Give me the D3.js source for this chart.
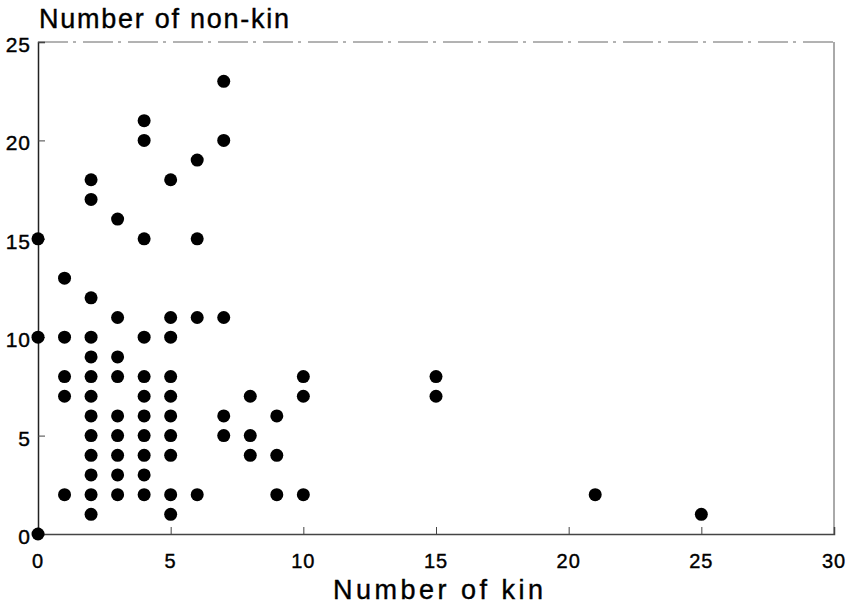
<!DOCTYPE html>
<html>
<head>
<meta charset="utf-8">
<style>
  body { margin: 0; background: #fff; }
  svg text { font-family: "Liberation Sans", Arial, sans-serif; fill: #000; stroke: #000; stroke-width: 0.4px; }
</style>
</head>
<body>
<div id="chart"></div>
<script src="https://d3js.org/d3.v7.min.js"></script>
<script>
// number of kin for each individual
var kin = [
  0, 0, 0,
  1, 1, 1, 1, 1,
  2, 2, 2, 2, 2, 2, 2, 2, 2, 2, 2, 2, 2,
  3, 3, 3, 3, 3, 3, 3, 3, 3,
  4, 4, 4, 4, 4, 4, 4, 4, 4, 4, 4,
  5, 5, 5, 5, 5, 5, 5, 5, 5, 5,
  6, 6, 6, 6,
  7, 7, 7, 7, 7,
  8, 8, 8,
  9, 9, 9,
  10, 10, 10,
  15, 15,
  21,
  25
];
// number of non-kin for the same individuals
var nonKin = [
  0, 10, 15,
  13, 10, 8, 7, 2,
  18, 17, 12, 10, 9, 8, 7, 6, 5, 4, 3, 2, 1,
  16, 11, 9, 8, 6, 5, 4, 3, 2,
  21, 20, 15, 10, 8, 7, 6, 5, 4, 3, 2,
  18, 11, 10, 8, 7, 6, 5, 4, 2, 1,
  19, 15, 11, 2,
  23, 20, 11, 6, 5,
  7, 5, 4,
  6, 4, 2,
  8, 7, 2,
  8, 7,
  2,
  1
];
var xTicks = [0, 5, 10, 15, 20, 25, 30];
var yTicks = [0, 5, 10, 15, 20, 25];

var width = 854, height = 605;
var margin = { left: 38, right: 20, top: 42, bottom: 71 };

var svg = d3.select("#chart").append("svg")
    .attr("width", width)
    .attr("height", height);

var x = d3.scaleLinear().domain([0, 30]).range([margin.left, width - margin.right]);
var y = d3.scaleLinear().domain([0, 25]).range([height - margin.bottom, margin.top]);

// frame (top and right sides are faint in the original)
svg.append("line")
    .attr("x1", x(0)).attr("x2", x(30))
    .attr("y1", y(25)).attr("y2", y(25))
    .attr("stroke", "#666").attr("stroke-width", 1)
    .attr("stroke-dasharray", "30,5,3,7");
svg.append("line")
    .attr("x1", x(30)).attr("x2", x(30))
    .attr("y1", y(25)).attr("y2", y(0))
    .attr("stroke", "#555").attr("stroke-width", 1);

// axes with inward ticks
var xAxis = svg.append("g")
    .attr("transform", "translate(0," + y(0) + ")")
    .call(d3.axisTop(x).tickValues(xTicks).tickSize(7).tickFormat(""));
xAxis.select(".domain").attr("stroke", "#444").attr("stroke-width", 1.5);
xAxis.selectAll(".tick line").attr("stroke", "#444");

var yAxis = svg.append("g")
    .attr("transform", "translate(" + x(0) + ",0)")
    .call(d3.axisRight(y).tickValues(yTicks).tickSize(7).tickFormat(""));
yAxis.select(".domain").attr("stroke", "#222").attr("stroke-width", 1.5);
yAxis.selectAll(".tick line").attr("stroke", "#444");

// tick labels
svg.append("g").selectAll("text")
    .data(xTicks).enter().append("text")
    .attr("x", d => x(d))
    .attr("y", y(0) + 34)
    .attr("text-anchor", "middle")
    .style("font-size", "20px")
    .style("letter-spacing", "1px")
    .text(d => d);

svg.append("g").selectAll("text")
    .data(yTicks).enter().append("text")
    .attr("x", x(0) - 7)
    .attr("y", d => y(d) + 10)
    .attr("text-anchor", "end")
    .style("font-size", "21px")
    .style("letter-spacing", "1px")
    .text(d => d);

// axis titles
svg.append("text")
    .attr("x", 39)
    .attr("y", 28)
    .attr("textLength", 250)
    .attr("lengthAdjust", "spacing")
    .style("font-size", "27px")
    .text("Number of non-kin");

svg.append("text")
    .attr("x", 333)
    .attr("y", 599)
    .attr("textLength", 210)
    .attr("lengthAdjust", "spacing")
    .style("font-size", "27px")
    .text("Number of kin");

// points
svg.append("g").selectAll("circle")
    .data(kin).enter().append("circle")
    .attr("cx", d => x(d))
    .attr("cy", (d, i) => y(nonKin[i]))
    .attr("r", 6.5)
    .attr("fill", "#000");
</script>
</body>
</html>
